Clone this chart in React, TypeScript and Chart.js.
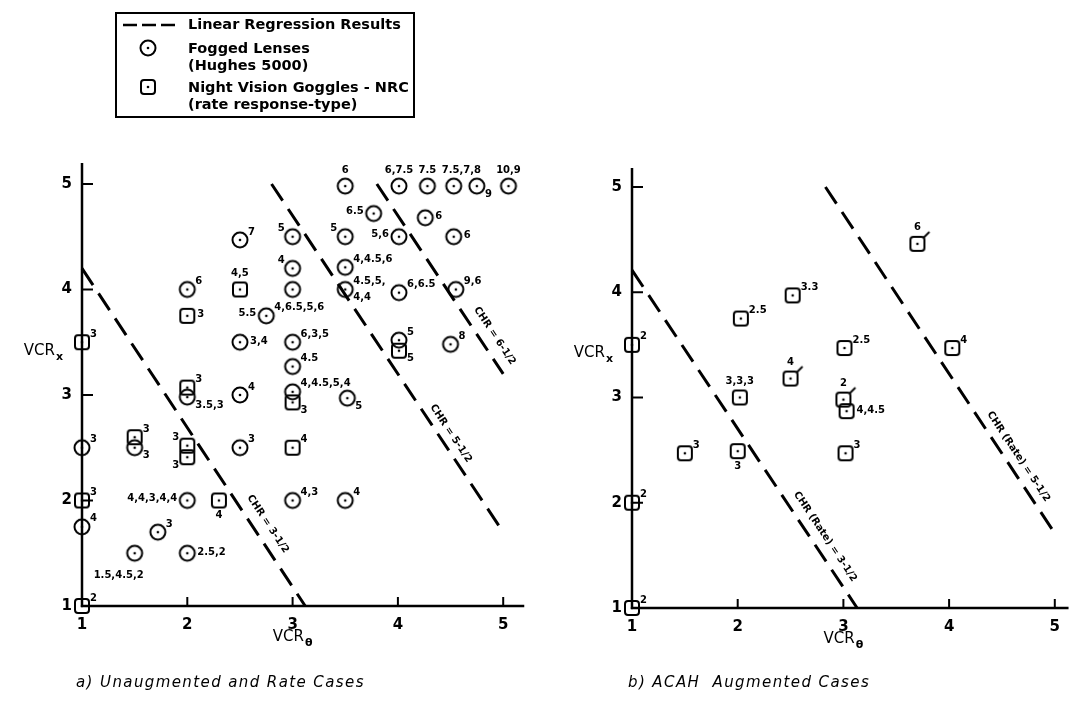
import React, { useEffect, useRef } from 'react';
import { Chart, registerables } from 'chart.js';

Chart.register(...registerables);

// ---------------- Panel (a): Unaugmented and Rate Cases ----------------
// Fogged Lenses (circles)
const aCircleX = [1, 1, 1.5, 1.72, 2, 2, 1.5, 2, 2, 2.5, 2.75, 2.5, 2.5, 2.5, 3, 3, 3, 3, 3, 3.0, 3, 3.5, 3.52, 3.5, 3.5, 3.5, 3.5, 3.77, 4.01, 4.01, 4.01, 4.01, 4.26, 4.28, 4.53, 4.75, 5.05, 4.53, 4.55, 4.5];
const aCircleY = [1.75, 2.5, 1.5, 1.7, 1.5, 2, 2.5, 2.98, 4, 4.47, 3.75, 3.5, 3, 2.5, 4.5, 4.2, 4, 3.5, 3.27, 3.03, 2, 2, 2.97, 4, 4.21, 4.5, 4.98, 4.72, 4.98, 4.5, 3.97, 3.52, 4.68, 4.98, 4.98, 4.98, 4.98, 4.5, 4.0, 3.48];
const aCircleLabels = ['4', '3', '1.5,4.5,2', '3', '2.5,2', '4,4,3,4,4', '3', '3.5,3', '6', '7', '5.5|4,6.5,5,6', '3,4', '4', '3', '5', '4', '', '6,3,5', '4.5', '4,4.5,5,4', '4,3', '4', '5', '4.5,5,|4,4', '4,4.5,6', '5', '6', '6.5', '6,7.5', '5,6', '6,6.5', '5', '6', '7.5', '7.5,7,8', '9', '10,9', '6', '9,6', '8'];
const aCircleLabelPos = ['ur', 'ur', 'bl', 'ur', 'r', 'l', 'lr', 'lr', 'ur', 'ur', 'l|ur', 'r', 'ur', 'ur', 'ul', 'ul', '', 'ur', 'ur', 'ur', 'ur', 'ur', 'lr', 'ur|lr', 'ur', 'ul', 'a', 'l', 'a', 'l', 'ur', 'ur', 'r', 'a', 'ar', 'lr', 'a', 'r', 'ur', 'ur'];

// Night Vision Goggles - NRC (squares)
const aSquareX = [1, 1, 1, 1.5, 2, 2, 2, 2, 2.5, 2.3, 3, 3, 4.01];
const aSquareY = [1, 2, 3.5, 2.6, 2.52, 2.41, 3.07, 3.75, 4, 2, 2.93, 2.5, 3.42];
const aSquareLabels = ['2', '3', '3', '3', '3', '3', '3', '3', '4,5', '4', '3', '4', '5'];
const aSquareLabelPos = ['ur', 'ur', 'ur', 'ur', 'ul', 'll', 'ur', 'r', 'a', 'b', 'lr', 'ur', 'lr'];

// Linear regression results (end points)
const aLine1X = [1, 3.12];
const aLine1Y = [4.2, 1.0];
const aLine2X = [2.8, 5.0];
const aLine2Y = [5.0, 1.7];
const aLine3X = [3.8, 5.0];
const aLine3Y = [5.0, 3.2];
const aLineLabels = ['CHR = 3-1/2', 'CHR = 5-1/2', 'CHR = 6-1/2'];

// ---------------- Panel (b): ACAH Augmented Cases ----------------
const bSquareX = [1, 1, 1, 1.5, 2, 2.02, 2.5, 2.03, 2.52, 3.01, 3, 3.03, 3.02, 4.03, 3.7];
const bSquareY = [1, 2, 3.5, 2.47, 2.49, 3, 3.18, 3.75, 3.97, 3.47, 2.98, 2.87, 2.47, 3.47, 4.46];
const bSquareLabels = ['2', '2', '2', '3', '3', '3,3,3', '4', '2.5', '3.3', '2.5', '2', '4,4.5', '3', '4', '6'];
const bSquareLabelPos = ['ur', 'ur', 'ur', 'ur', 'b', 'a', 'a', 'ur', 'ur', 'ur', 'a', 'r', 'ur', 'ur', 'a'];
const bSquareFlagged = [false, false, false, false, false, false, true, false, false, false, true, false, false, false, true];

const bLine1X = [1, 3.13];
const bLine1Y = [4.21, 1.0];
const bLine2X = [2.83, 4.98];
const bLine2Y = [5.0, 1.74];
const bLineLabels = ['CHR (Rate) = 3-1/2', 'CHR (Rate) = 5-1/2'];

// Axis ticks and texts
const xTickValues = [1, 2, 3, 4, 5];
const yTickValues = [1, 2, 3, 4, 5];
const legendTexts = ['Linear Regression Results', 'Fogged Lenses', '(Hughes 5000)', 'Night Vision Goggles - NRC', '(rate response-type)'];
const captionA = 'a) Unaugmented and Rate Cases';
const captionB = 'b) ACAH  Augmented Cases';

// ---------------- styles ----------------
const FONT = '"DejaVu Sans", sans-serif';
const lineLabelT = { a: [0.78, 0.734, 0.84], b: [0.81, 0.805] };
const lineLabelOffset = { a: [14, 11, 14], b: [13, 12] };

function makeCircleImg(): HTMLCanvasElement {
  const c = document.createElement('canvas');
  c.width = 22; c.height = 22;
  const g = c.getContext('2d')!;
  g.strokeStyle = '#000'; g.lineWidth = 2;
  g.beginPath(); g.arc(11, 11, 7.5, 0, Math.PI * 2); g.stroke();
  g.fillStyle = '#000';
  g.beginPath(); g.arc(11, 11, 1.3, 0, Math.PI * 2); g.fill();
  return c;
}

function makeSquareImg(flag: boolean): HTMLCanvasElement {
  const c = document.createElement('canvas');
  c.width = 30; c.height = 30;
  const g = c.getContext('2d')!;
  g.strokeStyle = '#000'; g.lineWidth = 2;
  g.beginPath();
  if ((g as any).roundRect) (g as any).roundRect(8, 8, 14, 14, 3); else g.rect(8, 8, 14, 14);
  g.stroke();
  g.fillStyle = '#000';
  g.beginPath(); g.arc(15, 15, 1.3, 0, Math.PI * 2); g.fill();
  if (flag) {
    g.lineWidth = 1.8;
    g.beginPath(); g.moveTo(21, 9); g.lineTo(27, 3); g.stroke();
  }
  return c;
}

function place(code: string, x: number, y: number) {
  switch (code) {
    case 'ur': return { x: x + 8, y: y - 8, a: 'left' };
    case 'r': return { x: x + 10, y: y - 1, a: 'left' };
    case 'lr': return { x: x + 8, y: y + 8, a: 'left' };
    case 'ul': return { x: x - 8, y: y - 8, a: 'right' };
    case 'l': return { x: x - 10, y: y - 2, a: 'right' };
    case 'll': return { x: x - 8, y: y + 8, a: 'right' };
    case 'a': return { x: x, y: y - 16, a: 'center' };
    case 'ar': return { x: x - 12, y: y - 16, a: 'left' };
    case 'b': return { x: x, y: y + 15, a: 'center' };
    case 'bl': return { x: x - 16, y: y + 22, a: 'center' };
    default: return null;
  }
}

type PanelCfg = {
  key: 'a' | 'b';
  lineLabels: string[];
  caption: string;
  captionX: number;
  legend: boolean;
};

function drawTextSub(ctx: CanvasRenderingContext2D, main: string, sub: string, x: number, y: number, align: 'center' | 'right') {
  ctx.font = `15px ${FONT}`;
  const w1 = ctx.measureText(main).width;
  ctx.font = `bold 11px ${FONT}`;
  const w2 = ctx.measureText(sub).width;
  const total = w1 + 1 + w2;
  const x0 = align === 'center' ? x - total / 2 : x - total;
  ctx.textAlign = 'left';
  ctx.textBaseline = 'middle';
  ctx.font = `15px ${FONT}`;
  ctx.fillText(main, x0, y);
  ctx.font = `bold 11px ${FONT}`;
  ctx.fillText(sub, x0 + w1 + 1, y + 6);
}

function makePlugin(cfg: PanelCfg) {
  return {
    id: 'panel_' + cfg.key,
    beforeDatasetsDraw(chart: any) {
      const { ctx, chartArea, scales } = chart;
      const xs = scales.x, ys = scales.y;
      ctx.save();
      ctx.strokeStyle = '#000';
      ctx.lineWidth = 2.5;
      ctx.beginPath();
      ctx.moveTo(chartArea.left, chartArea.top);
      ctx.lineTo(chartArea.left, chartArea.bottom);
      ctx.lineTo(chartArea.right, chartArea.bottom);
      ctx.stroke();
      ctx.lineWidth = 2;
      ctx.fillStyle = '#000';
      ctx.font = `bold 15px ${FONT}`;
      ctx.textBaseline = 'middle';
      ctx.textAlign = 'center';
      for (const v of xTickValues) {
        const px = xs.getPixelForValue(v);
        if (v > 1) {
          ctx.beginPath(); ctx.moveTo(px, chartArea.bottom); ctx.lineTo(px, chartArea.bottom - 9); ctx.stroke();
        }
        ctx.fillText(String(v), px, chartArea.bottom + 19);
      }
      ctx.textAlign = 'right';
      for (const v of yTickValues) {
        const py = ys.getPixelForValue(v);
        if (v > 1) {
          ctx.beginPath(); ctx.moveTo(chartArea.left, py); ctx.lineTo(chartArea.left + 11, py); ctx.stroke();
        }
        ctx.fillText(String(v), chartArea.left - 10, py);
      }
      // axis titles
      drawTextSub(ctx, 'VCR', 'θ', xs.getPixelForValue(3), chartArea.bottom + 31, 'center');
      drawTextSub(ctx, 'VCR', 'x', chartArea.left - 19, ys.getPixelForValue(3.42), 'right');
      ctx.restore();
    },
    afterDatasetsDraw(chart: any) {
      const { ctx, scales } = chart;
      const xs = scales.x, ys = scales.y;
      ctx.save();
      ctx.fillStyle = '#000';
      // point labels
      chart.data.datasets.forEach((ds: any, di: number) => {
        if (!ds.labels) return;
        const meta = chart.getDatasetMeta(di);
        meta.data.forEach((el: any, i: number) => {
          const texts = String(ds.labels[i] || '').split('|');
          const codes = String(ds.labelPos[i] || '').split('|');
          texts.forEach((t: string, k: number) => {
            if (!t) return;
            const p = place(codes[k], el.x, el.y);
            if (!p) return;
            ctx.font = `bold 10px ${FONT}`;
            ctx.textAlign = p.a;
            ctx.textBaseline = 'middle';
            ctx.fillText(t, p.x, p.y);
          });
        });
      });
      // line labels
      const lineSets = chart.data.datasets.filter((d: any) => d.isLine);
      lineSets.forEach((ds: any, li: number) => {
        const p0 = { x: xs.getPixelForValue(ds.data[0].x), y: ys.getPixelForValue(ds.data[0].y) };
        const p1 = { x: xs.getPixelForValue(ds.data[1].x), y: ys.getPixelForValue(ds.data[1].y) };
        const dx = p1.x - p0.x, dy = p1.y - p0.y;
        const len = Math.hypot(dx, dy);
        const ux = dx / len, uy = dy / len;
        const t = lineLabelT[cfg.key][li];
        const off = lineLabelOffset[cfg.key][li];
        const cx = p0.x + dx * t + uy * off;
        const cy = p0.y + dy * t - ux * off;
        ctx.save();
        ctx.translate(cx, cy);
        ctx.rotate(Math.atan2(dy, dx));
        ctx.font = `bold 10px ${FONT}`;
        ctx.textAlign = 'center';
        ctx.textBaseline = 'middle';
        ctx.fillText(cfg.lineLabels[li], 0, 0);
        ctx.restore();
      });
      ctx.restore();
    },
    afterDraw(chart: any) {
      const { ctx } = chart;
      ctx.save();
      ctx.fillStyle = '#000';
      ctx.strokeStyle = '#000';
      // caption
      ctx.font = `italic 15px ${FONT}`;
      (ctx as any).letterSpacing = '1.4px';
      ctx.textAlign = 'left';
      ctx.textBaseline = 'middle';
      ctx.fillText(cfg.caption, cfg.captionX, 683);
      (ctx as any).letterSpacing = '0px';
      if (cfg.legend) {
        ctx.lineWidth = 2;
        ctx.strokeRect(116, 13, 298, 104);
        ctx.lineWidth = 2.5;
        ctx.setLineDash([14, 5]);
        ctx.beginPath(); ctx.moveTo(123, 25); ctx.lineTo(178, 25); ctx.stroke();
        ctx.setLineDash([]);
        const ci = circleImg, si = squareImgs[0];
        ctx.drawImage(ci, 148 - ci.width / 2, 48 - ci.height / 2);
        ctx.drawImage(si, 148 - si.width / 2, 87 - si.height / 2);
        ctx.font = `bold 14.5px ${FONT}`;
        ctx.textAlign = 'left';
        ctx.textBaseline = 'middle';
        ctx.fillText(legendTexts[0], 188, 25);
        ctx.fillText(legendTexts[1], 188, 49);
        ctx.fillText(legendTexts[2], 188, 66);
        ctx.fillText(legendTexts[3], 188, 88);
        ctx.fillText(legendTexts[4], 188, 105);
      }
      ctx.restore();
    },
  };
}

let circleImg: HTMLCanvasElement;
let squareImgs: HTMLCanvasElement[];

function pts(xs: number[], ys: number[]) {
  return xs.map((x, i) => ({ x, y: ys[i] }));
}

function lineDs(xs: number[], ys: number[]) {
  return {
    isLine: true,
    data: pts(xs, ys),
    showLine: true,
    borderColor: '#000',
    borderWidth: 3,
    borderDash: [20, 10],
    pointRadius: 0,
    pointHoverRadius: 0,
    clip: false,
    fill: false,
  };
}

function buildChart(canvas: HTMLCanvasElement, key: 'a' | 'b') {
  const isA = key === 'a';
  const datasets: any[] = [];
  if (isA) {
    datasets.push(lineDs(aLine1X, aLine1Y), lineDs(aLine2X, aLine2Y), lineDs(aLine3X, aLine3Y));
    datasets.push({
      label: 'Fogged Lenses', data: pts(aCircleX, aCircleY), labels: aCircleLabels, labelPos: aCircleLabelPos,
      pointStyle: circleImg, pointRadius: 8, clip: false, showLine: false,
    });
    datasets.push({
      label: 'Night Vision Goggles - NRC', data: pts(aSquareX, aSquareY), labels: aSquareLabels, labelPos: aSquareLabelPos,
      pointStyle: squareImgs[0], pointRadius: 8, clip: false, showLine: false,
    });
  } else {
    datasets.push(lineDs(bLine1X, bLine1Y), lineDs(bLine2X, bLine2Y));
    datasets.push({
      label: 'Night Vision Goggles - NRC', data: pts(bSquareX, bSquareY), labels: bSquareLabels, labelPos: bSquareLabelPos,
      pointStyle: (c: any) => (bSquareFlagged[c.dataIndex] ? squareImgs[1] : squareImgs[0]),
      pointRadius: 8, clip: false, showLine: false,
    });
  }
  const padding = isA
    ? { left: 82, right: 560 - (82 + 4.2 * 105.3), top: 606 - 4.2 * 105.5, bottom: 702 - 606 }
    : { left: 72, right: 509 - (72 + 4.13 * 105.7), top: 608 - 4.18 * 105.25, bottom: 702 - 608 };
  return new Chart(canvas, {
    type: 'scatter',
    data: { datasets },
    options: {
      responsive: false,
      animation: false,
      events: [],
      layout: { padding, autoPadding: false },
      scales: {
        x: { type: 'linear', min: 1, max: isA ? 5.2 : 5.13, display: false },
        y: { type: 'linear', min: 1, max: isA ? 5.2 : 5.18, display: false },
      },
      plugins: { legend: { display: false }, tooltip: { enabled: false } },
    },
    plugins: [makePlugin({
      key,
      lineLabels: isA ? aLineLabels : bLineLabels,
      caption: isA ? captionA : captionB,
      captionX: isA ? 76 : 68,
      legend: isA,
    })],
  } as any);
}

export default function App() {
  const refA = useRef<HTMLCanvasElement>(null);
  const refB = useRef<HTMLCanvasElement>(null);
  useEffect(() => {
    circleImg = makeCircleImg();
    squareImgs = [makeSquareImg(false), makeSquareImg(true)];
    const ca = buildChart(refA.current!, 'a');
    const cb = buildChart(refB.current!, 'b');
    return () => { ca.destroy(); cb.destroy(); };
  }, []);
  return (
    <div style={{ position: 'absolute', left: 0, top: 0, width: 1069, height: 702, background: '#fff', overflow: 'hidden' }}>
      <canvas ref={refA} width={560} height={702} style={{ position: 'absolute', left: 0, top: 0, width: 560, height: 702 }} />
      <canvas ref={refB} width={509} height={702} style={{ position: 'absolute', left: 560, top: 0, width: 509, height: 702 }} />
    </div>
  );
}
